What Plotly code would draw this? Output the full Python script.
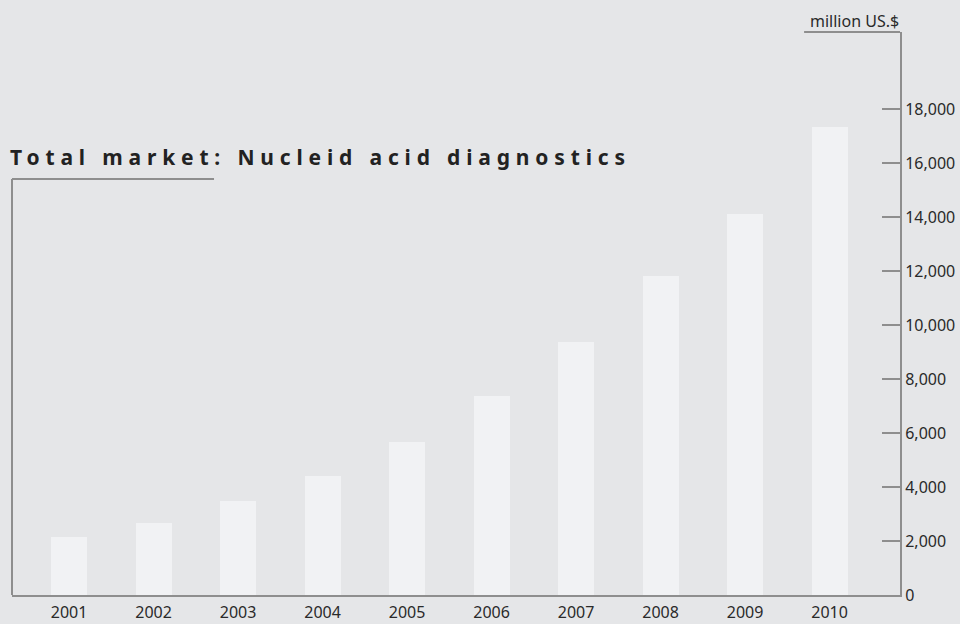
import plotly.graph_objects as go

years = [2001, 2002, 2003, 2004, 2005, 2006, 2007, 2008, 2009, 2010]
year_labels = [str(y) for y in years]
market_musd = [2150, 2670, 3480, 4400, 5670, 7370, 9370, 11830, 14110, 17330]
y_ticks = [0, 2000, 4000, 6000, 8000, 10000, 12000, 14000, 16000, 18000]

title_text = "Total market: Nucleid acid diagnostics"
unit_text = "million US.$"

BG = "#e5e6e8"
BAR = "#f1f2f4"
LINE = "#8e8e8e"
TXT = "#2a2a2a"
FONT = "Noto Sans"

fig = go.Figure()
fig.add_trace(go.Bar(
    x=years, y=market_musd, width=0.426,
    marker=dict(color=BAR, line=dict(width=0)),
    hoverinfo="x+y",
))

fig.update_layout(
    width=960, height=624,
    margin=dict(l=12, r=60, t=32, b=29, autoexpand=False),
    paper_bgcolor=BG, plot_bgcolor=BG,
    showlegend=False,
    font=dict(family=FONT, size=16, color=TXT),
    xaxis=dict(
        range=[2000.325, 2010.834],
        tickvals=years, ticktext=year_labels,
        showgrid=False, zeroline=False,
        showline=True, linecolor=LINE, linewidth=2,
        ticks="", tickfont=dict(size=16, color=TXT),
        ticklabelstandoff=2,
        automargin=False, fixedrange=True,
    ),
    yaxis=dict(
        range=[0, 20850], side="right",
        tickvals=y_ticks, tickformat=",d",
        showgrid=False, zeroline=False,
        showline=True, linecolor=LINE, linewidth=2,
        ticks="inside", ticklen=18, tickwidth=1.5, tickcolor=LINE,
        tickfont=dict(size=16, color=TXT),
        automargin=False, fixedrange=True,
    ),
    bargap=0,
)

fig.add_annotation(
    text=unit_text, xref="paper", yref="paper",
    x=0.8964, y=1.0195, xanchor="left", yanchor="middle",
    showarrow=False, font=dict(size=16, color=TXT, family=FONT),
)
fig.add_annotation(
    text="<b>" + title_text + "</b>", xref="paper", yref="paper",
    x=-0.0045, y=0.778, xanchor="left", yanchor="middle",
    showarrow=False, font=dict(size=21, color="#222222", family=FONT),
)

fig.add_shape(type="line", xref="paper", yref="paper",
              x0=0.892, x1=1.0, y0=1.0, y1=1.0, line=dict(color=LINE, width=2))
fig.add_shape(type="line", xref="paper", yref="paper",
              x0=0.0, x1=0.0, y0=0.0, y1=0.739, line=dict(color=LINE, width=2))
fig.add_shape(type="line", xref="paper", yref="paper",
              x0=0.0, x1=0.2275, y0=0.739, y1=0.739, line=dict(color=LINE, width=2))

post = """
var ts = document.querySelectorAll('g.annotation text.annotation-text');
ts.forEach(function(t){
  if (t.textContent.indexOf('Total market') === 0) {
    var bb = t.getBBox();
    var left = bb.x, w = bb.width, n = t.textContent.length;
    var ls = (615 - w) / (n - 1);
    t.setAttribute('text-anchor', 'start');
    t.style.textAnchor = 'start';
    t.setAttribute('x', left);
    t.style.letterSpacing = ls + 'px';
  }
});
"""

fig.write_html("out.html", post_script=post, config={"displayModeBar": False})
